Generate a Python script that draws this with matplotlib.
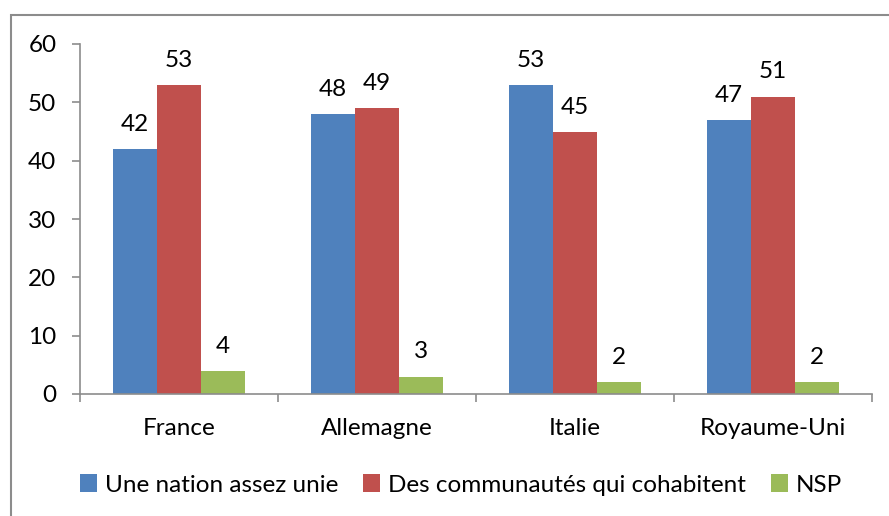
import numpy as np
import matplotlib
matplotlib.use('Agg')
import matplotlib.pyplot as plt
from matplotlib.patches import Rectangle

# ── Data ──────────────────────────────────────────
countries = ["France", "Allemagne", "Italie", "Royaume-Uni"]
series_names = ["Une nation assez unie", "Des communautés qui cohabitent", "NSP"]
unie = [42, 48, 53, 47]
communautes = [53, 49, 45, 51]
nsp = [4, 3, 2, 2]

colors = ["#4F81BD", "#C0504D", "#9BBB59"]
FS = 17.5

plt.rcParams['font.family'] = ['Lato', 'DejaVu Sans']

fig = plt.figure(figsize=(8.89, 5.16), dpi=100)
ax = fig.add_axes([80 / 889, 1 - 394 / 516, (872 - 80) / 889, (394 - 44) / 516])

# outer chart frame (only top/left visible in the crop)
fig.patches.append(Rectangle((11 / 889, -0.1), 1.2, 1 - 15 / 516 + 0.1,
                             transform=fig.transFigure, fill=False,
                             edgecolor="#8C8C8C", linewidth=1.5))

x = np.arange(len(countries))
w = 0.222
handles = []
for i, (vals, name) in enumerate(zip([unie, communautes, nsp], series_names)):
    bars = ax.bar(x + (i - 1) * w, vals, w, color=colors[i], label=name)
    handles.append(bars)
    for b, v in zip(bars, vals):
        ax.text(b.get_x() + b.get_width() / 2, v + 2.4, str(v),
                ha='center', va='bottom', fontsize=FS)

ax.set_xlim(-0.5, len(countries) - 0.5)
ax.set_ylim(0, 60)
ax.set_yticks(range(0, 61, 10))
ax.set_xticks(np.arange(-0.5, len(countries), 1.0))
ax.set_xticklabels([])
ax.set_xticks(x, minor=True)
ax.set_xticklabels(countries, minor=True, fontsize=FS)
ax.tick_params(axis='x', which='minor', length=0, pad=17)
ax.tick_params(axis='x', which='major', length=6, color="#8C8C8C", width=1.2)
ax.tick_params(axis='y', length=6, color="#8C8C8C", width=1.2, labelsize=FS, pad=11)

for s in ['top', 'right']:
    ax.spines[s].set_visible(False)
for s in ['left', 'bottom']:
    ax.spines[s].set_color("#8C8C8C")
    ax.spines[s].set_linewidth(1.2)

fig.legend(handles, series_names, loc='center', bbox_to_anchor=(461 / 889, 1 - 485 / 516),
           ncol=3, frameon=False, fontsize=FS, handlelength=0.7, handleheight=0.7,
           handletextpad=0.35, columnspacing=1.0)

fig.savefig("out.png", dpi=100)
